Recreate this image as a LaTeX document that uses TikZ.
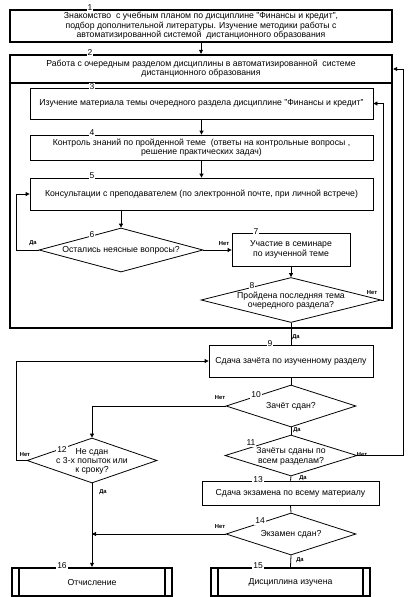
\documentclass[tikz,border=0pt]{standalone}
\usepackage{fontspec}
\setmainfont{Liberation Sans}
\usetikzlibrary{shapes.geometric,arrows.meta,calc}
\begin{document}
\begin{tikzpicture}[x=1pt,y=-1pt,
  every node/.style={font=\fontsize{8.7}{9.3}\selectfont},
  thinbox/.style={draw, line width=0.8pt, inner sep=0pt, align=center},
  thickbox/.style={draw, line width=2.4pt, inner sep=0pt, align=center},
  dia/.style={draw, diamond, line width=0.8pt, inner sep=0pt},
  txt/.style={align=center, inner sep=0pt},
  num/.style={fill=white, inner sep=0.8pt, font=\fontsize{8.5}{8.5}\selectfont},
  yn/.style={font=\fontsize{5.8}{6}\selectfont\bfseries, inner sep=0.5pt},
  conn/.style={line width=0.8pt},
  arr/.style={line width=0.8pt, -{Triangle[length=4pt,width=4pt]}},
  bar/.style={line width=2.4pt},
]
\useasboundingbox (0,0) rectangle (418,597);

% boxes
\node[thickbox, minimum width=382pt, minimum height=32pt] (b1) at (201,26)
  {Знакомство\ \ с учебным планом по дисциплине "Финансы и кредит",\\
   подбор дополнительной литературы. Изучение методики работы с\\
   автоматизированной системой\ \ дистанционного образования};
\node[thickbox, minimum width=382pt, minimum height=245pt] (b2b) at (201,205.5) {};
\node[thickbox, minimum width=382pt, minimum height=28pt] (b2h) at (201,69)
  {Работа с очередным разделом дисциплины в автоматизированной\ \ системе\\
   дистанционного образования};
\node[thinbox, minimum width=343pt, minimum height=31pt] (b3) at (201.5,103.5)
  {Изучение материала темы очередного раздела дисциплине "Финансы и кредит"};
\node[thinbox, minimum width=343pt, minimum height=25pt] (b4) at (201.5,147.5)
  {Контроль знаний по пройденной теме\ \ (ответы на контрольные вопросы ,\\
   решение практических задач)};
\node[thinbox, minimum width=343pt, minimum height=32pt] (b5) at (201.5,194)
  {Консультации с преподавателем (по электронной почте, при личной встрече)};
\node[dia, minimum width=164pt, minimum height=44pt] (d6) at (121,250) {};
\node[txt] at (d6) {Остались неясные вопросы?};
\node[thinbox, minimum width=118pt, minimum height=33pt] (b7) at (291,249.5)
  {Участие в семинаре\\ по изученной теме};
\node[dia, minimum width=180pt, minimum height=45pt] (d8) at (291,300) {};
\node[txt] at ($(d8)+(0,1)$) {Пройдена последняя тема\\ очередного раздела?};
\node[thinbox, minimum width=164pt, minimum height=32pt] (b9) at (291,361)
  {Сдача зачёта по изученному разделу};
\node[dia, minimum width=130pt, minimum height=42pt] (d10) at (291,406) {};
\node[txt] at (d10) {Зачёт сдан?};
\node[dia, minimum width=132pt, minimum height=41pt] (d11) at (291,455.5) {};
\node[txt] at ($(d11)+(0,1)$) {Зачёты сданы по\\ всем разделам?};
\node[dia, minimum width=130pt, minimum height=45pt] (d12) at (92,460.5) {};
\node[txt] at ($(d12)+(0,1)$) {Не сдан\\ с 3-х попыток или\\ к сроку?};
\node[thinbox, minimum width=177pt, minimum height=24pt] (b13) at (290.5,493)
  {Сдача экзамена по всему материалу};
\node[dia, minimum width=130pt, minimum height=42pt] (d14) at (291,534) {};
\node[txt] at (d14) {Экзамен сдан?};
\node[thickbox, minimum width=159pt, minimum height=28pt] (b15) at (290.5,582)
  {Дисциплина изучена};
\node[thickbox, minimum width=160pt, minimum height=28pt] (b16) at (92,582)
  {Отчисление};
\draw[bar] ($(b15.north west)+(8,0)$) -- ($(b15.south west)+(8,0)$);
\draw[bar] ($(b15.north east)+(-8,0)$) -- ($(b15.south east)+(-8,0)$);
\draw[bar] ($(b16.north west)+(8,0)$) -- ($(b16.south west)+(8,0)$);
\draw[bar] ($(b16.north east)+(-8,0)$) -- ($(b16.south east)+(-8,0)$);

% connectors
\draw[arr] (b1.south) -- (b2h.north);
\draw[arr] (b3.south) -- (b4.north);
\draw[arr] (b4.south) -- (b5.north);
\draw[arr] (b5.south -| d6.north) -- (d6.north);
\draw[arr] (d6.west) -- ($(d6.west)+(-22,0)$) |- (b5.west);
\draw[arr] (d6.east) -- (d6.east -| b7.west);
\draw[arr] (b7.south) -- (d8.north);
\draw[arr] (d8.east) -- ($(d8.east)+(2,0)$) |- (b3.east);
\draw[conn] (d8.south) -- (b9.north);
\draw[conn] (b9.south) -- (d10.north);
\draw[arr] (d10.west) -| (d12.north);
\draw[conn] (d10.south) -- (d11.north);
\draw[arr] (d11.east) -- (403,455.5) |- (b2h.east);
\draw[arr] (d12.west) -- ($(d12.west)+(-10,0)$) |- (b9.west);
\draw[arr] (d12.south) -- (b16.north);
\draw[conn] (d11.south) -- (b13.north);
\draw[conn] (b13.south) -- (d14.north);
\draw[arr] (d14.west) -- (d14.west -| d12.south);
\draw[conn] (d14.south) -- (b15.north);

% numbers
\node[num] at (90,8) {1};
\node[num] at (90,53) {2};
\node[num] at (92,87) {3};
\node[num] at (92,133) {4};
\node[num] at (92,176) {5};
\node[num] at (92,235) {6};
\node[num] at (256,232) {7};
\node[num] at (252,286) {8};
\node[num] at (270,344) {9};
\node[num] at (256,395) {10};
\node[num] at (251,443) {11};
\node[num] at (62,450) {12};
\node[num] at (258,480) {13};
\node[num] at (260,521) {14};
\node[num] at (258,566) {15};
\node[num] at (62,566) {16};

% yes/no
\node[yn] at (33,243) {Да};
\node[yn] at (224,244) {Нет};
\node[yn] at (372,293) {Нет};
\node[yn] at (296,337) {Да};
\node[yn] at (220,398) {Нет};
\node[yn] at (297,430) {Да};
\node[yn] at (362,455) {Нет};
\node[yn] at (25,455) {Нет};
\node[yn] at (103,492) {Да};
\node[yn] at (303,478) {Да};
\node[yn] at (220,527) {Нет};
\node[yn] at (300,560) {Да};
\end{tikzpicture}
\end{document}
